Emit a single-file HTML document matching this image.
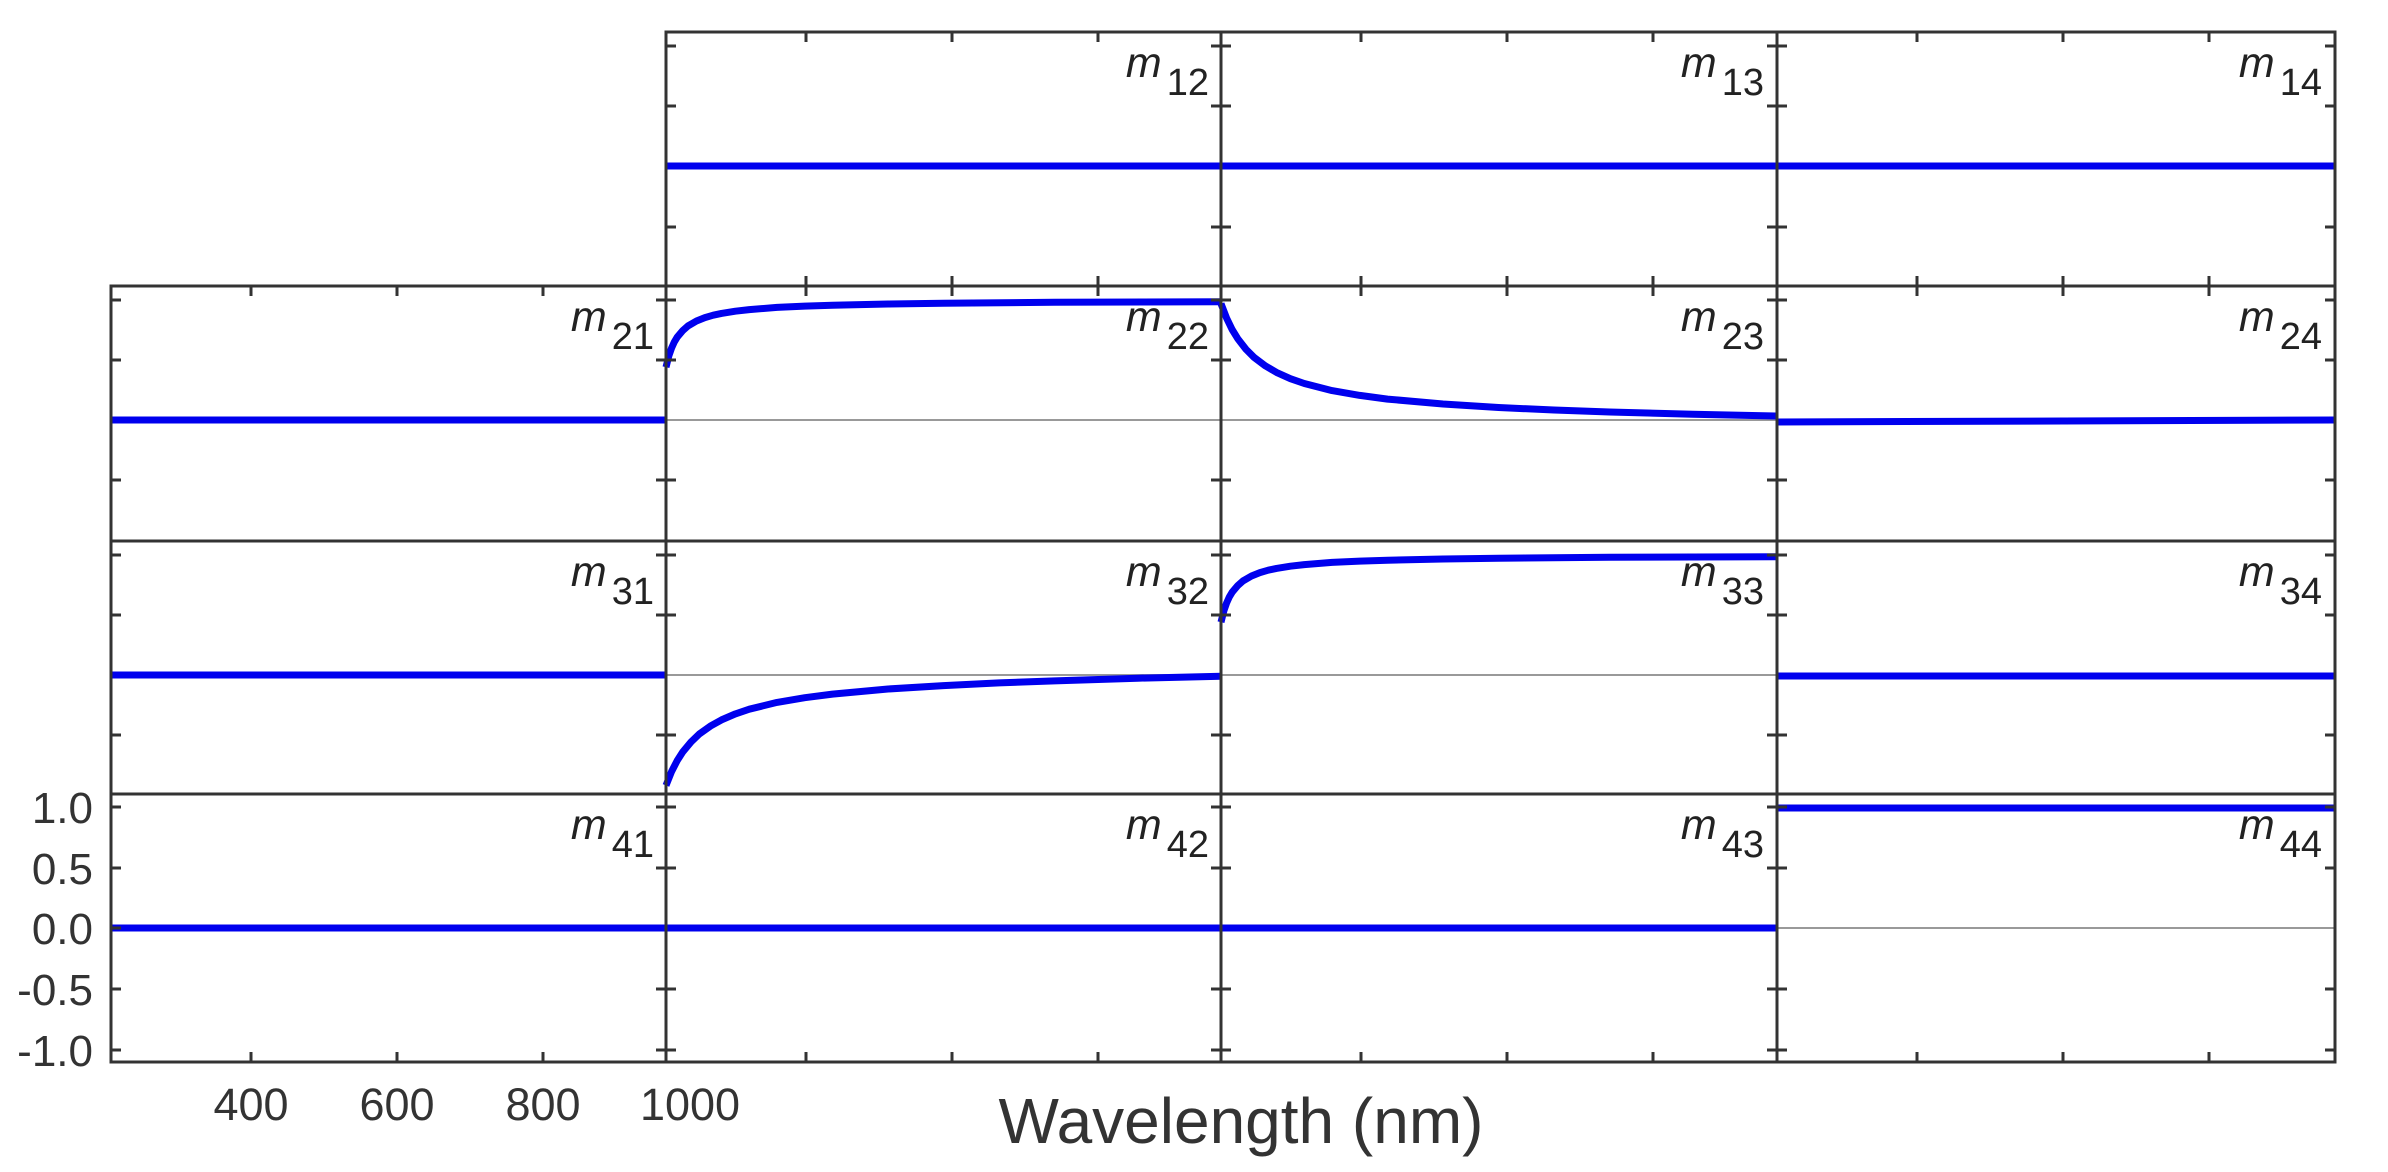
<!DOCTYPE html>
<html><head><meta charset="utf-8"><style>html,body{margin:0;padding:0;background:#fff}svg{display:block}</style></head>
<body>
<svg width="2388" height="1172" viewBox="0 0 2388 1172" xmlns="http://www.w3.org/2000/svg" font-family="Liberation Sans, Arial, sans-serif">
<rect width="2388" height="1172" fill="#fff"/>
<g stroke="#999" stroke-width="2">
<line x1="666" y1="420" x2="1777" y2="420"/>
<line x1="666" y1="675" x2="1777" y2="675"/>
<line x1="1777" y1="928" x2="2335" y2="928"/>
</g>
<g stroke="#0000ee" stroke-width="7" fill="none" stroke-linejoin="round">
<line x1="666" y1="166" x2="2335" y2="166"/>
<line x1="111" y1="420" x2="666" y2="420"/>
<line x1="1777" y1="422" x2="2335" y2="420"/>
<line x1="111" y1="675" x2="666" y2="675"/>
<line x1="1777" y1="676" x2="2335" y2="676"/>
<line x1="111" y1="928" x2="1777" y2="928"/>
<line x1="1777" y1="808" x2="2335" y2="808"/>
<g transform="translate(666,420)"><polyline points="0,-52.8 2.8,-64 5.6,-72 8.3,-78 11.1,-82.7 16.7,-89.4 22.2,-94.2 30.5,-99 38.9,-102.4 47.2,-104.8 55.5,-106.6 69.4,-108.8 83.3,-110.4 111,-112.6 138.8,-113.9 166.5,-114.8 222,-116 277.5,-116.8 388.5,-117.7 555,-118.3"/></g>
<g transform="translate(1221,675)"><polyline points="0,-52.8 2.8,-64 5.6,-72 8.3,-78 11.1,-82.7 16.7,-89.4 22.2,-94.2 30.5,-99 38.9,-102.4 47.2,-104.8 55.5,-106.6 69.4,-108.8 83.3,-110.4 111,-112.6 138.8,-113.9 166.5,-114.8 222,-116 277.5,-116.8 388.5,-117.7 555,-118.3"/></g>
<g transform="translate(1221,420)"><polyline points="0,-116.4 5.6,-101.9 11.1,-90.5 16.7,-81.4 25,-70.7 33.3,-62.4 44.4,-54.1 55.5,-47.6 69.4,-41.3 83.3,-36.5 111,-29.4 138.8,-24.6 166.5,-20.9 222,-16 277.5,-12.5 333,-10 388.5,-8 471.8,-5.8 555,-4"/></g>
<g transform="translate(666,675)"><polyline points="0,110.4 5.6,96.5 11.1,85.8 16.7,77 25,67 33.3,59 44.4,51.1 55.5,44.9 69.4,38.9 83.3,34.2 111,27.4 138.8,22.7 166.5,19.1 222,14 277.5,10.6 333,7.9 388.5,5.9 471.8,3.2 555,1.2"/></g>
</g>
<g stroke="#333" stroke-width="3" fill="none">
<rect x="666" y="32" width="1669" height="254"/>
<rect x="111" y="286" width="2224" height="776"/>
<line x1="111" y1="541" x2="2335" y2="541"/>
<line x1="111" y1="794" x2="2335" y2="794"/>
<line x1="666" y1="32" x2="666" y2="1062"/>
<line x1="1221" y1="32" x2="1221" y2="1062"/>
<line x1="1777" y1="32" x2="1777" y2="1062"/>
</g>
<g stroke="#333" stroke-width="3">
<path d="
M806,32v10 M952,32v10 M1098,32v10 M1361,32v10 M1507,32v10 M1653,32v10 M1917,32v10 M2063,32v10 M2209,32v10
M806,286v-10 M952,286v-10 M1098,286v-10 M1361,286v-10 M1507,286v-10 M1653,286v-10 M1917,286v-10 M2063,286v-10 M2209,286v-10
M251,286v10 M397,286v10 M543,286v10 M806,286v10 M952,286v10 M1098,286v10 M1361,286v10 M1507,286v10 M1653,286v10 M1917,286v10 M2063,286v10 M2209,286v10
M251,1062v-10 M397,1062v-10 M543,1062v-10 M806,1062v-10 M952,1062v-10 M1098,1062v-10 M1361,1062v-10 M1507,1062v-10 M1653,1062v-10 M1917,1062v-10 M2063,1062v-10 M2209,1062v-10
"/>
<path d="M666,46h10 M666,106h10 M666,227h10
M1221,46h10 M1221,106h10 M1221,227h10 M1211,46h10 M1211,106h10 M1211,227h10
M1777,46h10 M1777,106h10 M1777,227h10 M1767,46h10 M1767,106h10 M1767,227h10
M2325,46h10 M2325,106h10 M2325,227h10"/>
<path d="M111,300h10 M111,360h10 M111,480h10
M656,300h10 M656,360h10 M656,480h10 M666,300h10 M666,360h10 M666,480h10
M1211,300h10 M1211,360h10 M1211,480h10 M1221,300h10 M1221,360h10 M1221,480h10
M1767,300h10 M1767,360h10 M1767,480h10 M1777,300h10 M1777,360h10 M1777,480h10
M2325,300h10 M2325,360h10 M2325,480h10"/>
<path d="M111,555h10 M111,615h10 M111,735h10
M656,555h10 M656,615h10 M656,735h10 M666,555h10 M666,615h10 M666,735h10
M1211,555h10 M1211,615h10 M1211,735h10 M1221,555h10 M1221,615h10 M1221,735h10
M1767,555h10 M1767,615h10 M1767,735h10 M1777,555h10 M1777,615h10 M1777,735h10
M2325,555h10 M2325,615h10 M2325,735h10"/>
<path d="M111,807h10 M111,868h10 M111,928h10 M111,989h10 M111,1050h10
M656,807h10 M656,868h10 M656,989h10 M656,1050h10 M666,807h10 M666,868h10 M666,989h10 M666,1050h10
M1211,807h10 M1211,868h10 M1211,989h10 M1211,1050h10 M1221,807h10 M1221,868h10 M1221,989h10 M1221,1050h10
M1767,807h10 M1767,868h10 M1767,989h10 M1767,1050h10 M1777,807h10 M1777,868h10 M1777,989h10 M1777,1050h10
M2325,807h10 M2325,868h10 M2325,989h10 M2325,1050h10"/>
</g>
<g fill="#222" text-anchor="end">
<text x="1209" y="77"><tspan font-style="italic" font-size="43">m</tspan><tspan font-size="38" dx="5" dy="18">12</tspan></text>
<text x="1764" y="77"><tspan font-style="italic" font-size="43">m</tspan><tspan font-size="38" dx="5" dy="18">13</tspan></text>
<text x="2322" y="77"><tspan font-style="italic" font-size="43">m</tspan><tspan font-size="38" dx="5" dy="18">14</tspan></text>
<text x="654" y="331"><tspan font-style="italic" font-size="43">m</tspan><tspan font-size="38" dx="5" dy="18">21</tspan></text>
<text x="1209" y="331"><tspan font-style="italic" font-size="43">m</tspan><tspan font-size="38" dx="5" dy="18">22</tspan></text>
<text x="1764" y="331"><tspan font-style="italic" font-size="43">m</tspan><tspan font-size="38" dx="5" dy="18">23</tspan></text>
<text x="2322" y="331"><tspan font-style="italic" font-size="43">m</tspan><tspan font-size="38" dx="5" dy="18">24</tspan></text>
<text x="654" y="586"><tspan font-style="italic" font-size="43">m</tspan><tspan font-size="38" dx="5" dy="18">31</tspan></text>
<text x="1209" y="586"><tspan font-style="italic" font-size="43">m</tspan><tspan font-size="38" dx="5" dy="18">32</tspan></text>
<text x="1764" y="586"><tspan font-style="italic" font-size="43">m</tspan><tspan font-size="38" dx="5" dy="18">33</tspan></text>
<text x="2322" y="586"><tspan font-style="italic" font-size="43">m</tspan><tspan font-size="38" dx="5" dy="18">34</tspan></text>
<text x="654" y="839"><tspan font-style="italic" font-size="43">m</tspan><tspan font-size="38" dx="5" dy="18">41</tspan></text>
<text x="1209" y="839"><tspan font-style="italic" font-size="43">m</tspan><tspan font-size="38" dx="5" dy="18">42</tspan></text>
<text x="1764" y="839"><tspan font-style="italic" font-size="43">m</tspan><tspan font-size="38" dx="5" dy="18">43</tspan></text>
<text x="2322" y="839"><tspan font-style="italic" font-size="43">m</tspan><tspan font-size="38" dx="5" dy="18">44</tspan></text>
</g>
<g fill="#333" font-size="44" text-anchor="end">
<text x="93" y="823">1.0</text>
<text x="93" y="884">0.5</text>
<text x="93" y="944">0.0</text>
<text x="93" y="1005">-0.5</text>
<text x="93" y="1066">-1.0</text>
</g>
<g fill="#333" font-size="45" text-anchor="middle">
<text x="251" y="1120">400</text>
<text x="397" y="1120">600</text>
<text x="543" y="1120">800</text>
<text x="690" y="1120">1000</text>
</g>
<text x="1241" y="1143" fill="#333" font-size="64" text-anchor="middle">Wavelength (nm)</text>
</svg>
</body></html>
